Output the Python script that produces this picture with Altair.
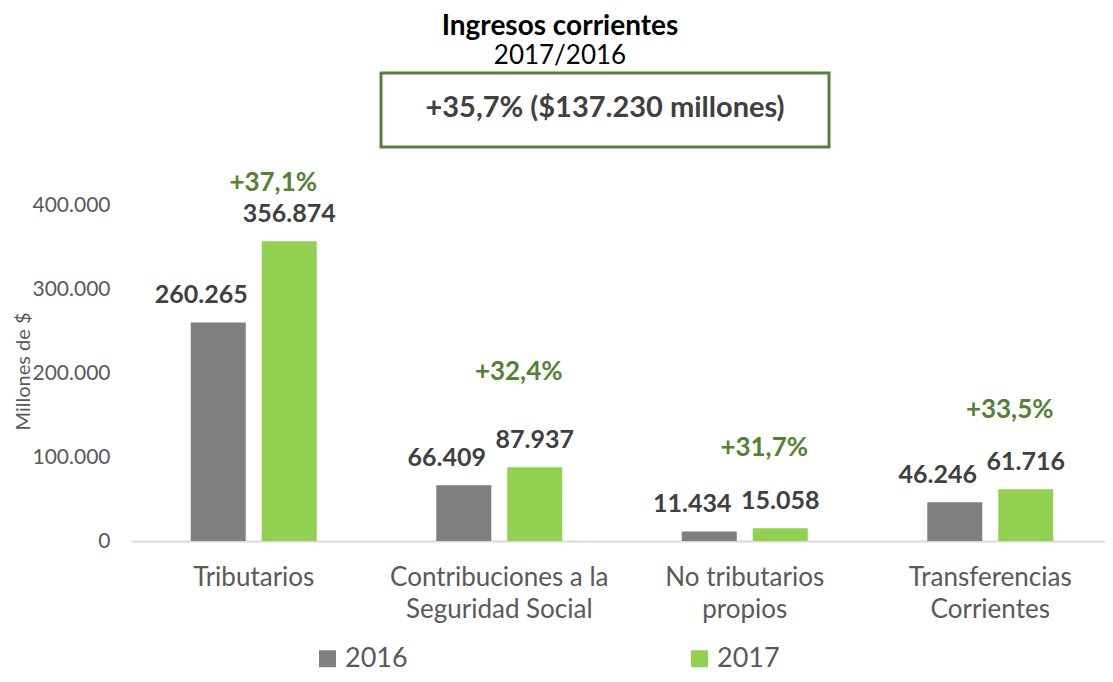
import altair as alt
import pandas as pd

# ---- data ----
categories = ["Tributarios", "Contribuciones a la\nSeguridad Social",
              "No tributarios\npropios", "Transferencias\nCorrientes"]
years = ["2016", "2017"]
v2016 = [260265, 66409, 11434, 46246]
v2017 = [356874, 87937, 15058, 61716]
pct_labels = ["+37,1%", "+32,4%", "+31,7%", "+33,5%"]
# height (in millones de $) where each variation annotation sits in the reference
pct_anchor = [426000, 201000, 110700, 156000]
y_ticks = [0, 100000, 200000, 300000, 400000]

title_text = "Ingresos corrientes"
subtitle_text = "2017/2016"
box_text = "+35,7% ($137.230 millones)"

FONT = "Lato"
GRAY = "#7F7F7F"
GREEN = "#92D050"
DARK_GREEN = "#548235"
LABEL = "#404040"
AXIS_TXT = "#595959"


def fmt(v):
    return f"{v:,}".replace(",", ".")


rows = []
for c, a, b in zip(categories, v2016, v2017):
    rows.append({"cat": c, "year": "2016", "value": a, "label": fmt(a)})
    rows.append({"cat": c, "year": "2017", "value": b, "label": fmt(b)})
df = pd.DataFrame(rows)
pct_df = pd.DataFrame({"cat": categories, "year": "2017", "value": pct_anchor, "pct": pct_labels})

x_enc = alt.X("cat:N", sort=categories, title=None,
              scale=alt.Scale(range=[0, 982], paddingInner=0.4868, paddingOuter=0.2434),
              axis=alt.Axis(labelExpr="split(datum.label, '\\n')", labelFont=FONT,
                            labelFontSize=26, labelColor=AXIS_TXT, labelAngle=0,
                            labelLineHeight=32, labelPadding=23, ticks=False, tickSize=0,
                            domainColor="#D9D9D9", domainWidth=2, labelLimit=400))
xoff = alt.XOffset("year:N", sort=years, scale=alt.Scale(paddingInner=0.225, paddingOuter=0))
y_enc = alt.Y("value:Q", title="Millones de $",
              scale=alt.Scale(domain=[0, 400000], nice=False),
              axis=alt.Axis(values=y_ticks, labelExpr="replace(format(datum.value, ','), ',', '.')",
                            labelFont=FONT, labelFontSize=21, labelColor=AXIS_TXT,
                            labelPadding=21, ticks=False, tickSize=0, domain=False, grid=False,
                            titleFont=FONT, titleFontSize=20, titleColor=AXIS_TXT,
                            titleFontWeight="normal", titleAngle=-90, titleAlign="center",
                            titleBaseline="middle", titleX=-108, titleY=166))

base = alt.Chart(df)
bars = base.mark_bar().encode(
    x=x_enc, xOffset=xoff, y=y_enc,
    color=alt.Color("year:N", sort=years,
                    scale=alt.Scale(domain=years, range=[GRAY, GREEN]),
                    legend=alt.Legend(title=None, orient="none", direction="horizontal",
                                      legendX=183, legendY=440, columnPadding=278,
                                      symbolType="square", symbolSize=289, symbolStrokeWidth=0,
                                      labelFont=FONT, labelFontSize=27, labelColor=AXIS_TXT,
                                      labelOffset=4)),
)
lab16 = base.transform_filter(alt.datum.year == "2016").mark_text(
    font=FONT, fontSize=25, fontWeight="bold", color=LABEL, baseline="alphabetic", dx=-17, dy=-19
).encode(x=alt.X("cat:N", sort=categories), xOffset=xoff, y="value:Q", text="label:N")
lab17 = base.transform_filter(alt.datum.year == "2017").mark_text(
    font=FONT, fontSize=25, fontWeight="bold", color=LABEL, baseline="alphabetic", dy=-19
).encode(x=alt.X("cat:N", sort=categories), xOffset=xoff, y="value:Q", text="label:N")
pct = alt.Chart(pct_df).mark_text(
    font=FONT, fontSize=26, fontWeight="bold", color=DARK_GREEN, baseline="middle", dx=-16
).encode(x=alt.X("cat:N", sort=categories), xOffset=alt.XOffset("year:N", sort=years),
         y="value:Q", text="pct:N")

head = pd.DataFrame({"t": [title_text], "s": [subtitle_text], "b": [box_text]})
title = alt.Chart(head).mark_text(font=FONT, fontSize=28, fontWeight="bold", color="#000000",
                                   baseline="middle").encode(
    x=alt.value(429), y=alt.value(-178), text="t:N")
subtitle = alt.Chart(head).mark_text(font=FONT, fontSize=26, color="#000000",
                                      baseline="middle").encode(
    x=alt.value(429), y=alt.value(-149), text="s:N")
box = alt.Chart(head).mark_rect(fill="white", stroke=DARK_GREEN, strokeWidth=3).encode(
    x=alt.value(250), x2=alt.value(698), y=alt.value(-132), y2=alt.value(-58))
box_t = alt.Chart(head).mark_text(font=FONT, fontSize=29, fontWeight="bold", color=LABEL,
                                   baseline="middle").encode(
    x=alt.value(474), y=alt.value(-97), text="b:N")

chart = alt.layer(bars, lab16, lab17, pct, title, subtitle, box, box_t).properties(
    width=974, height=336,
    autosize=alt.AutoSizeParams(type="none"),
    padding={"left": 123, "top": 197, "right": 0, "bottom": 133},
).configure_view(stroke=None)

chart.save("out.html", embed_options={"renderer": "svg", "actions": False})
